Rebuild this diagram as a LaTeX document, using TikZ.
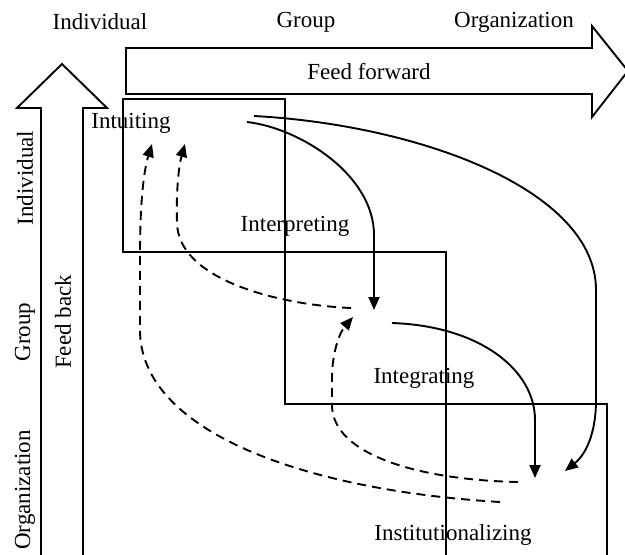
\documentclass[tikz,border=0pt]{standalone}
\usepackage{fontspec}
\setmainfont{Liberation Serif}
\usetikzlibrary{arrows.meta}
\begin{document}
\begin{tikzpicture}[x=1pt,y=-1pt,
  lw/.style={line width=1.9pt},
  bigarrow/.style={lw, line join=miter},
  stagebox/.style={lw},
  lbl/.style={inner sep=0pt, font=\fontsize{23}{26}\selectfont},
  flow/.style={lw, -{Triangle[length=13pt,width=11pt]}},
  back/.style={flow, dash pattern=on 9pt off 6pt},
]
\useasboundingbox (0,0) rectangle (625,555);
\begin{scope}
\clip (0,0) rectangle (625,555);
% feed forward arrow
\draw[bigarrow] (126,48) -- (592,48) -- (592,26) -- (628,71) -- (592,117) -- (592,94) -- (126,94) -- cycle;
% feed back arrow
\draw[bigarrow] (41,560) -- (41,108) -- (17,108) -- (62,64) -- (107,108) -- (83,108) -- (83,560);
% stage boxes
\draw[stagebox] (123,99) rectangle (285,252);
\draw[stagebox] (285,252) rectangle (446,404);
\draw[stagebox] (446,404) rectangle (607,560);
\end{scope}
% top labels
\node[lbl] (tInd) at (100,22) {Individual};
\node[lbl] (tGrp) at (306,22) {Group};
\node[lbl] (tOrg) at (514,22) {Organization};
\node[lbl] (tFF) at (369,72) {Feed forward};
% side labels
\node[lbl, rotate=90] (sInd) at (25,178) {Individual};
\node[lbl, rotate=90] (sGrp) at (25,332) {Group};
\node[lbl, rotate=90] (sOrg) at (25,490) {Organization};
\node[lbl, rotate=90] (sFB) at (63,322) {Feed back};
% stage labels
\node[lbl] (intu) at (131,123) {Intuiting};
\node[lbl] (interp) at (295,226) {Interpreting};
\node[lbl] (integ) at (424,378) {Integrating};
\node[lbl] (inst) at (453,535) {Institutionalizing};
% connector end points
\coordinate (a1s) at (247,122);
\coordinate (a1e) at (374,310);
\coordinate (a2s) at (254,116);
\coordinate (a2e) at (565,471);
\coordinate (a3s) at (392,323);
\coordinate (a3e) at (535,478);
\coordinate (d1s) at (351,308);
\coordinate (d1e) at (185,144);
\coordinate (d2s) at (518,482);
\coordinate (d2e) at (353,317);
\coordinate (d3s) at (500,502);
\coordinate (d3e) at (152,144);
% feed-forward flows
\draw[flow] (a1s) .. controls (300,128) and (374,175) .. (374,235) -- (a1e);
\draw[flow] (a2s) .. controls (420,125) and (596,190) .. (596,290) -- (596,400) .. controls (596,435) and (585,455) .. (a2e);
\draw[flow] (a3s) .. controls (480,326) and (535,370) .. (535,420) -- (a3e);
% feedback flows
\draw[back] (d1s) .. controls (280,305) and (177,280) .. (177,222) .. controls (176,190) and (179,165) .. (d1e);
\draw[back] (d2s) .. controls (420,480) and (332,455) .. (332,405) -- (332,378) .. controls (332,352) and (340,332) .. (d2e);
\draw[back] (d3s) .. controls (300,490) and (140,430) .. (140,330) -- (140,255) .. controls (140,200) and (144,170) .. (d3e);
\end{tikzpicture}
\end{document}
